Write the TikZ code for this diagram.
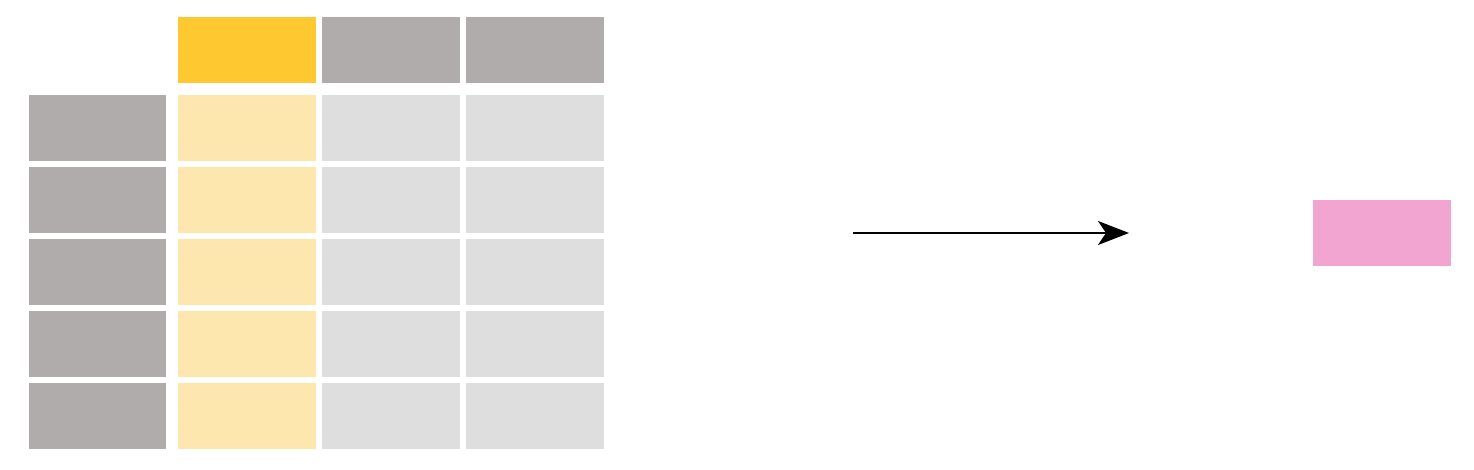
\documentclass[tikz,border=0pt]{standalone}
\usetikzlibrary{arrows.meta}
\definecolor{hdrY}{HTML}{FEC930}
\definecolor{cellY}{HTML}{FEE7AE}
\definecolor{hdrG}{HTML}{AFACAB}
\definecolor{cellG}{HTML}{DFDEDF}
\definecolor{outP}{HTML}{F2A5D1}
\begin{document}
\begin{tikzpicture}[x=1pt,y=-1pt,
  cellbox/.style={draw=none,inner sep=0pt,outer sep=0pt,anchor=north west,minimum width=138pt,minimum height=66pt},
  conn/.style={line width=2pt,-{Stealth[length=31pt,width=24pt,inset=8pt]}}]
\useasboundingbox (0,0) rectangle (1474,470);
% header row
\node[cellbox,fill=hdrY] (h1) at (178,17) {};
\node[cellbox,fill=hdrG] (h2) at (322,17) {};
\node[cellbox,fill=hdrG] (h3) at (466,17) {};
% body rows
\foreach \i/\y in {1/95,2/167,3/239,4/311,5/383}{
  \node[cellbox,fill=hdrG,minimum width=137pt] (r\i) at (29,\y) {};
  \node[cellbox,fill=cellY] (c\i a) at (178,\y) {};
  \node[cellbox,fill=cellG] (c\i b) at (322,\y) {};
  \node[cellbox,fill=cellG] (c\i c) at (466,\y) {};
}
% output
\node[cellbox,fill=outP,minimum width=138pt] (out) at (1313,200) {};
\coordinate (as) at (853,233);
\coordinate (ae) at (1129,233);
\draw[conn] (as) -- (ae);
\end{tikzpicture}
\end{document}
